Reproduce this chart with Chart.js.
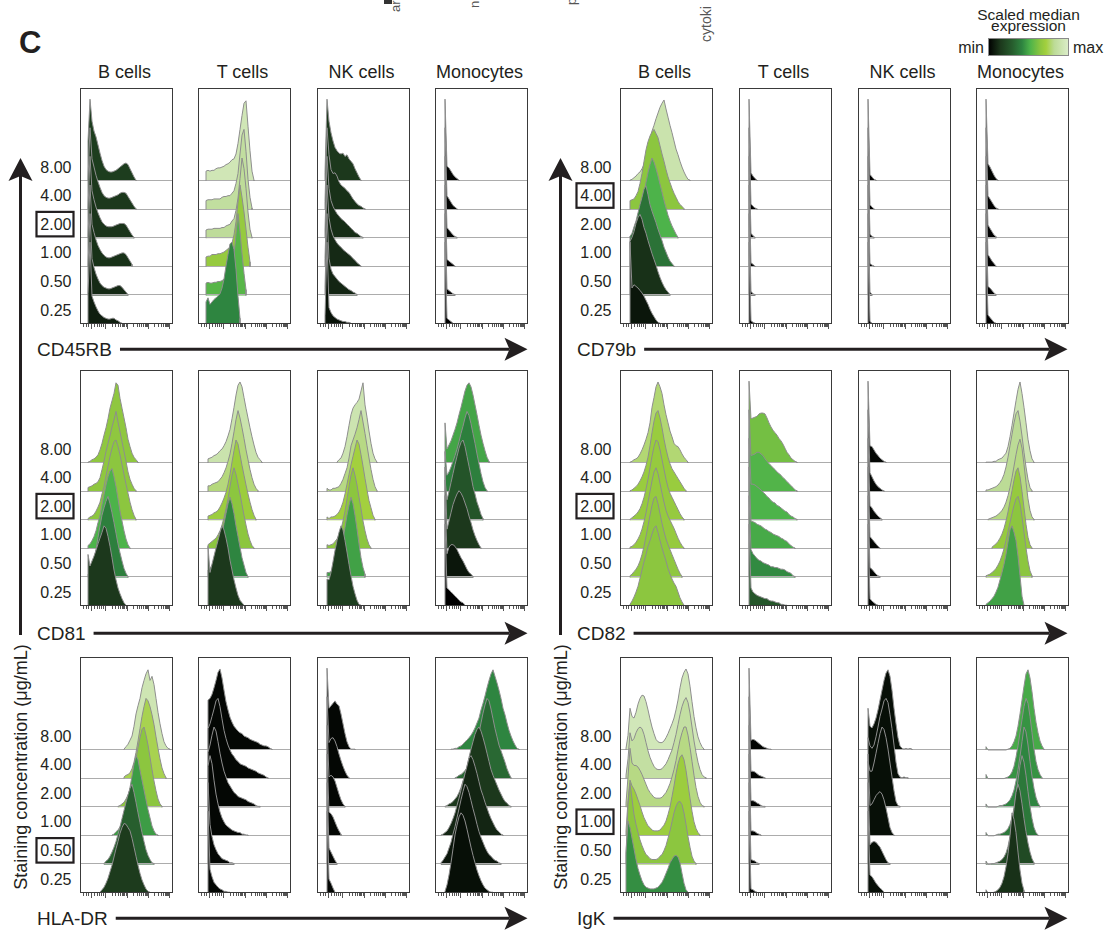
<!DOCTYPE html>
<html>
<head>
<meta charset="utf-8">
<script src="https://cdn.jsdelivr.net/npm/chart.js@4.4.1/dist/chart.umd.min.js"></script>
<style>
  html, body { margin: 0; padding: 0; background: #fff; }
  body { width: 1104px; height: 930px; position: relative; overflow: hidden;
         font-family: "Liberation Sans", Arial, Helvetica, sans-serif; }
  canvas { position: absolute; }
  #ann { position: absolute; left: 0; top: 0; }
</style>
</head>
<body>
<svg id="ann" width="1104" height="930" xmlns="http://www.w3.org/2000/svg"></svg>
<script>
// ---------------------------------------------------------------
// Labels
// ---------------------------------------------------------------
const CONCENTRATIONS = ['0.25', '0.50', '1.00', '2.00', '4.00', '8.00'];   // bottom -> top
const CELL_TYPES = ['B cells', 'T cells', 'NK cells', 'Monocytes'];
const MARKERS_LEFT = ['CD45RB', 'CD81', 'HLA-DR'];
const MARKERS_RIGHT = ['CD79b', 'CD82', 'IgK'];
const REFERENCE_CONC_LEFT = ['2.00', '2.00', '0.50'];
const REFERENCE_CONC_RIGHT = ['4.00', '2.00', '1.00'];

// ---------------------------------------------------------------
// Histograms: one row per concentration (0.25 first, 8.00 last).
// Each row = [first bin, modal-scaled counts (0-100) ...]
// ---------------------------------------------------------------
const CD45RB_B = [
  [4,37,100,34,27,21,16,12,10,8,7,6,6,7,7,5,4,2,1],
  [4,37,100,45,34,26,20,15,12,10,9,8,8,9,10,11,12,12,10,7,4,1],
  [4,37,100,52,42,33,26,21,17,14,12,11,11,12,13,14,15,16,17,17,15,11,7,3],
  [4,37,100,58,47,38,31,25,20,17,15,14,14,14,15,16,17,18,18,18,16,12,8,4,1],
  [4,37,100,62,52,42,34,27,21,17,15,14,14,15,16,17,18,20,21,21,20,16,12,8,4,1],
  [4,49,100,73,61,54,44,34,25,18,14,12,11,11,12,13,15,17,19,21,22,20,15,10,5,1]
];
const CD45RB_T = [
  [4,27,32,24,27,30,32,34,37,44,55,71,85,98,100,91,67,34,7],
  [4,15,16,15,15,16,16,17,17,18,20,21,22,24,34,49,75,100,78,51,27,7],
  [4,12,13,13,15,15,15,16,16,17,18,20,22,24,29,39,55,79,100,85,67,46,24,6],
  [4,10,11,11,11,12,12,12,12,13,13,15,16,17,21,24,34,49,73,98,85,61,32,11,1],
  [4,11,12,12,12,13,13,13,13,15,16,16,17,17,20,23,32,44,68,91,98,71,37,15,2],
  [4,12,13,12,13,13,15,16,16,17,18,20,21,23,26,27,33,46,63,80,95,98,67,37,12,1]
];
const CD45RB_NK = [
  [4,10,100,20,14,10,8,6,5,4,3,3,2,2,1],
  [4,10,100,45,32,26,23,20,17,15,13,11,9,7,6,4,3,1],
  [4,10,100,60,46,38,33,29,26,24,21,19,17,15,13,10,8,5,3,1],
  [4,10,100,61,46,39,34,30,27,24,22,20,17,15,12,10,7,6,4,2,1],
  [4,10,100,67,49,44,45,41,34,30,28,26,23,21,17,13,10,7,5,4,2,1],
  [4,10,100,73,59,49,41,37,34,33,34,30,32,27,24,21,15,10,5,1]
];
const CD45RB_MONO = [
  [5,100,7,5,3,1],
  [5,100,8,6,4,2,1],
  [5,100,9,7,5,3,1],
  [5,100,13,10,7,4,2,1],
  [5,100,17,13,9,5,3,1],
  [5,100,18,16,12,8,5,3,1]
];

const CD81_B = [
  [4,63,49,55,61,68,76,83,90,98,95,85,73,59,44,32,22,15,9,4,1],
  [4,4,6,12,21,34,49,63,76,85,93,99,90,79,67,54,41,30,20,11,5,1],
  [4,4,6,10,15,22,32,41,54,66,78,88,95,98,88,76,61,46,34,22,12,5,1],
  [4,2,4,5,7,11,16,22,32,41,54,66,78,88,96,98,90,80,68,56,44,33,22,13,6,1],
  [4,5,6,7,9,10,12,17,27,37,49,59,68,79,88,98,85,73,61,49,37,24,15,9,4,1],
  [4,1,2,4,5,7,10,16,24,34,43,54,67,76,85,98,95,79,67,55,43,29,20,12,7,4,1]
];
const CD81_T = [
  [5,73,41,51,61,71,80,90,98,93,83,71,56,44,32,22,13,7,4,1],
  [5,9,11,15,20,26,33,43,54,66,78,90,98,90,78,63,50,37,24,15,6,1],
  [5,5,7,9,11,13,17,22,29,38,49,61,76,90,99,91,79,67,54,41,29,18,10,4,1],
  [5,5,6,7,9,10,12,16,21,27,34,44,56,71,85,98,93,80,67,55,43,32,22,13,6,1],
  [5,7,7,9,10,11,12,15,18,23,29,37,46,59,73,88,99,90,78,65,51,39,27,17,9,4,1],
  [5,5,6,7,9,10,12,15,17,21,26,33,41,54,68,83,95,99,93,80,67,55,43,32,22,13,7,4,1]
];
const CD81_NK = [
  [5,33,32,41,54,68,80,90,98,93,80,66,51,37,24,15,7,2,1],
  [5,6,6,7,10,13,18,26,35,48,61,76,88,98,90,76,59,41,24,12,4],
  [5,5,4,5,6,9,12,17,24,34,46,61,76,90,99,90,78,63,49,34,22,12,5,1],
  [5,4,2,4,4,5,7,10,15,22,32,44,56,68,78,88,98,93,80,66,51,37,24,15,6,1],
  [5,4,2,2,4,4,5,6,10,15,22,29,41,56,63,70,78,88,99,85,71,56,41,27,15,6,1],
  [10,1,4,6,12,20,32,46,59,67,71,74,78,88,98,71,56,39,24,12,5,1]
];
const CD81_MONO = [
  [5,100,22,20,17,15,12,10,7,5,4,1],
  [5,100,29,37,40,40,38,34,29,24,20,15,10,6,4,1],
  [5,100,24,34,44,54,61,67,71,68,63,56,49,40,32,23,16,10,5,1],
  [5,49,25,35,46,57,68,78,88,95,98,90,78,66,54,41,32,22,15,7,2],
  [5,49,20,24,30,37,44,52,61,71,80,90,98,93,83,71,59,46,34,22,12,5,1],
  [5,49,17,22,27,34,41,49,59,68,78,88,95,98,93,83,71,59,46,34,24,15,7,2]
];

const HLADR_B = [
  [10,1,4,7,12,18,26,34,44,54,63,73,80,85,84,80,76,67,56,45,34,24,16,10,5,2,1],
  [12,1,4,6,10,15,21,28,37,46,56,66,76,85,93,98,88,76,63,51,39,28,18,11,6,2,1],
  [16,1,2,5,7,11,16,22,32,44,59,73,88,98,93,80,68,56,44,32,22,12,6,2,1],
  [19,1,2,4,6,10,15,22,32,44,59,73,85,95,98,88,76,61,46,32,20,10,4,1],
  [22,2,4,5,7,12,20,32,46,61,76,88,98,95,88,78,66,51,37,24,13,6,1],
  [22,1,4,7,12,17,29,44,54,63,76,85,93,98,85,90,80,63,46,32,20,10,5,2,1]
];
const HLADR_T = [
  [5,100,29,20,13,10,7,5,4,2,2,1,1],
  [5,100,49,34,24,18,13,10,7,6,5,4,2,2,1],
  [5,85,98,88,68,51,39,29,22,17,13,11,9,7,6,5,4,4,2,2,1,1],
  [5,67,76,88,98,93,80,66,54,44,37,30,26,22,18,16,13,12,11,10,9,7,6,5,4,2,1,1],
  [5,61,67,76,85,95,98,88,73,59,49,41,35,30,27,23,21,18,17,16,15,13,12,11,10,9,7,6,5,4,2,1],
  [5,61,63,68,76,85,95,99,88,73,59,49,40,34,29,26,23,21,20,17,16,15,13,12,11,10,9,7,6,5,5,4,2,1]
];
const HLADR_NK = [
  [5,100,17,12,6,1],
  [5,100,20,15,10,5,1],
  [5,100,29,27,23,17,11,6,2],
  [5,100,37,39,37,32,24,16,9,4,1],
  [5,100,44,49,50,46,39,30,22,15,9,4,1],
  [5,100,51,54,57,60,56,54,44,32,20,10,4,1,1,1]
];
const HLADR_MONO = [
  [5,2,10,22,37,54,71,83,93,98,95,88,78,67,56,46,37,28,21,15,10,6,4,2,1,1],
  [3,2,5,9,13,20,27,37,46,57,68,79,89,98,95,88,78,68,59,49,40,33,27,21,16,12,10,7,5,4,2,1],
  [3,1,2,4,6,10,15,21,28,37,46,56,66,76,85,95,98,93,85,76,66,56,49,41,34,27,21,16,11,7,5,2,1],
  [5,1,2,4,5,7,10,13,18,24,32,40,50,61,71,80,89,95,98,93,85,76,66,56,46,39,33,27,21,16,11,7,5,2,1],
  [10,1,2,4,5,7,10,13,18,23,29,37,46,56,68,80,90,98,95,85,73,61,51,41,34,27,20,12,6,1],
  [8,1,1,2,2,4,5,7,10,12,15,18,22,27,33,39,49,57,66,76,85,93,98,90,82,73,63,51,43,33,24,17,11,6,2,1]
];

const CD79B_B = [
  [5,100,44,48,46,44,41,38,34,29,24,18,13,9,5,2,1],
  [5,66,71,78,88,95,99,93,83,76,67,59,51,44,37,29,22,16,11,7,4,1],
  [5,37,41,49,56,66,76,85,95,99,88,76,68,61,54,46,39,32,24,18,12,7,4,1],
  [5,2,5,7,11,17,27,39,54,68,80,90,98,93,85,76,66,56,46,37,28,21,15,10,5,1],
  [5,11,12,13,17,22,32,44,59,73,83,90,95,98,93,88,78,68,59,49,40,33,26,20,15,10,6,4,1],
  [5,1,2,4,6,9,11,15,20,27,37,49,61,68,76,83,90,95,99,88,78,68,59,49,39,32,24,17,11,6,2,1]
];
const CD79B_T = [
  [5,100,4,2,1],
  [5,100,5,2,1],
  [5,100,5,3,1],
  [5,100,6,3,1],
  [5,100,7,4,2,1],
  [5,100,10,6,3,1]
];
const CD79B_NK = [
  [5,100,3,1],
  [5,100,4,1],
  [5,100,4,2,1],
  [5,100,5,2,1],
  [5,100,6,3,1],
  [5,100,8,5,2,1]
];
const CD79B_MONO = [
  [5,100,11,8,5,2,1],
  [5,100,11,9,6,3,1],
  [5,100,15,11,7,4,1],
  [5,100,16,12,8,4,2],
  [5,100,17,13,9,5,2,1],
  [5,100,21,17,12,7,3,1]
];

const CD82_B = [
  [5,2,6,11,17,24,34,44,54,63,73,80,88,95,98,90,80,71,63,55,46,39,33,28,24,17,10,5,1],
  [5,2,4,7,10,14,20,28,38,50,63,76,88,97,99,90,78,66,56,47,40,34,28,22,16,10,5,1],
  [5,2,3,5,8,12,17,24,33,44,57,70,83,94,99,92,80,68,57,47,40,35,30,25,19,13,8,4,1],
  [5,1,3,5,7,10,14,20,28,38,50,64,78,90,98,96,86,74,62,50,40,33,28,23,18,13,8,4,1],
  [5,1,2,4,6,9,13,18,24,32,42,56,72,86,96,99,90,78,64,52,42,34,28,24,20,16,12,8,4,1],
  [5,1,2,4,5,7,11,16,22,29,37,49,68,80,93,99,93,85,71,59,49,39,32,24,21,20,16,11,7,4,1]
];
const CD82_T = [
  [5,100,22,17,15,13,12,11,10,9,9,7,6,6,5,4,4,2,2,1,1],
  [5,100,34,29,26,23,21,20,18,17,16,15,13,13,12,12,11,10,10,9,7,6,5,2,1],
  [5,100,34,33,32,30,29,28,26,24,23,21,20,18,17,16,15,13,12,10,9,6,4,2,1],
  [5,100,44,44,43,41,39,37,34,32,29,27,24,22,21,18,17,15,13,11,10,7,5,4,2,1],
  [5,100,44,45,46,48,48,46,44,40,37,34,32,29,27,24,22,20,17,15,12,10,7,5,2,1],
  [5,100,54,55,56,57,60,61,61,60,55,49,44,40,37,34,30,27,23,18,13,10,6,4,2,1]
];
const CD82_NK = [
  [5,100,9,6,4,2,1],
  [5,100,12,10,7,4,2,1],
  [5,100,15,12,9,6,3,1],
  [5,100,18,15,11,8,5,3,1],
  [5,100,23,18,13,9,6,4,2,1],
  [5,100,21,20,16,12,9,6,4,2,1]
];
const CD82_MONO = [
  [5,2,4,6,9,12,17,23,32,41,51,63,78,93,98,90,80,61,37,12,1],
  [5,2,3,4,6,8,11,15,20,27,35,45,56,67,78,88,96,99,90,74,55,36,20,8,2],
  [8,2,4,6,9,13,18,25,34,45,58,71,84,95,99,88,70,50,30,14,5,1],
  [6,1,2,3,4,5,7,9,12,16,22,30,40,52,66,80,92,99,88,68,46,26,12,4,1],
  [5,2,2,3,4,5,6,8,11,15,21,30,42,56,70,84,95,99,86,68,48,30,15,5,1],
  [5,1,1,1,1,2,2,4,5,6,9,12,20,32,46,61,76,90,99,85,68,49,29,15,5,1]
];

const IGK_B = [
  [3,49,88,80,67,54,41,30,22,15,10,7,6,5,5,5,6,7,10,13,18,24,30,37,41,45,46,44,37,24,12,4,1],
  [3,12,73,99,80,61,49,39,30,23,17,12,10,7,6,6,6,7,10,12,17,23,32,41,52,63,71,76,77,73,63,49,34,21,10,4,1],
  [3,6,43,68,61,57,51,44,37,29,22,17,12,10,7,6,6,6,7,10,13,18,26,35,48,61,76,88,96,99,93,80,63,46,30,17,9,4,1],
  [3,5,37,72,54,51,51,49,45,40,34,28,22,18,15,12,11,11,11,12,15,18,23,29,37,46,57,70,82,91,98,98,88,73,56,39,24,13,6,2,1],
  [3,4,24,56,46,49,56,61,63,61,54,44,34,26,20,15,12,11,11,12,15,18,23,29,35,44,54,66,78,88,95,99,93,80,63,46,32,20,11,5,2,1],
  [3,2,18,51,41,39,46,56,63,67,66,59,49,38,28,20,13,10,9,9,11,15,20,26,32,39,49,61,76,88,95,99,93,78,59,41,27,16,9,4,1]
];
const IGK_T = [
  [5,100,5,4,2,1],
  [5,100,6,5,4,2,1],
  [5,100,6,6,5,3,2,1],
  [5,100,8,8,7,5,4,2,1,1],
  [5,100,9,9,8,6,4,3,2,1],
  [5,100,12,13,12,10,8,6,4,3,2,1,1]
];
const IGK_NK = [
  [5,100,22,20,16,12,9,6,4,1],
  [5,100,24,27,28,27,24,21,16,11,6,2,1],
  [5,100,37,39,44,49,52,54,51,44,34,22,10,4,1],
  [5,56,44,44,54,66,78,90,98,95,85,71,54,37,20,7,2,1],
  [5,50,40,37,41,51,63,76,85,95,98,93,78,61,41,20,6,2,1,2,1,1],
  [5,51,29,27,32,39,49,61,73,85,94,98,90,73,51,32,15,5,2,1,2,1,2,1]
];
const IGK_MONO = [
  [5,4,0,0,0,1,2,4,7,12,20,32,48,70,98,90,74,50,28,12,3],
  [5,4,0,0,1,1,2,3,4,6,9,14,22,34,50,68,88,98,90,74,56,40,26,15,7,2],
  [5,4,0,0,0,0,1,2,2,3,4,6,9,14,22,34,50,68,86,98,90,74,54,36,21,10,4,1],
  [5,4,0,0,0,0,0,1,2,2,3,4,6,9,14,21,32,46,62,80,98,92,76,56,38,23,12,5,1],
  [5,5,0,0,0,0,0,0,0,0,0,1,2,4,8,15,26,40,56,72,88,98,92,76,56,36,21,11,5,1],
  [5,4,0,0,0,0,0,0,0,0,0,0,1,2,5,10,17,29,44,61,78,93,98,88,71,51,34,21,11,5,1]
];

// Scaled median expression of each histogram (0 = min, 1 = max); [B, T, NK, Mono]
const CD45RB_MED = [
  [0.08,0.11,0.13,0.14,0.15,0.17],
  [0.42,0.54,0.68,0.83,0.85,0.93],
  [0.05,0.10,0.11,0.12,0.13,0.15],
  [0.00,0.00,0.00,0.01,0.01,0.01]
];
const CD81_MED = [
  [0.15,0.40,0.52,0.65,0.66,0.66],
  [0.15,0.42,0.65,0.70,0.79,0.90],
  [0.17,0.48,0.65,0.72,0.80,0.91],
  [0.00,0.06,0.15,0.26,0.40,0.49]
];
const HLADR_MED = [
  [0.16,0.30,0.47,0.65,0.74,0.92],
  [0.02,0.02,0.02,0.02,0.02,0.02],
  [0.02,0.02,0.02,0.02,0.02,0.02],
  [0.04,0.06,0.10,0.15,0.33,0.42]
];
const CD79B_MED = [
  [0.06,0.13,0.36,0.52,0.65,0.90],
  [0.00,0.00,0.00,0.00,0.00,0.00],
  [0.00,0.00,0.00,0.00,0.00,0.00],
  [0.00,0.00,0.00,0.00,0.00,0.01]
];
const CD82_MED = [
  [0.65,0.66,0.68,0.68,0.69,0.78],
  [0.27,0.43,0.50,0.52,0.53,0.60],
  [0.02,0.02,0.02,0.02,0.02,0.02],
  [0.48,0.65,0.68,0.80,0.82,0.92]
];
const IGK_MED = [
  [0.44,0.65,0.70,0.80,0.86,0.94],
  [0.01,0.01,0.01,0.01,0.01,0.01],
  [0.04,0.04,0.04,0.04,0.04,0.04],
  [0.13,0.22,0.38,0.42,0.45,0.50]
];

// Logicle-style x axis ticks (fraction of the axis length)
const AXIS_MAJOR = [0.115, 0.27, 0.50, 0.73, 0.96];
const AXIS_MINOR = [0.035, 0.06, 0.085, 0.15, 0.18, 0.205, 0.23, 0.25,
  0.339, 0.380, 0.408, 0.431, 0.449, 0.464, 0.478, 0.490,
  0.569, 0.610, 0.638, 0.661, 0.679, 0.694, 0.708, 0.720,
  0.799, 0.840, 0.868, 0.891, 0.909, 0.924, 0.938, 0.950];

// Colour scale for the scaled median expression
const CMAP_STOPS = [
  [0.00, '#000000'], [0.15, '#1c381c'], [0.30, '#275e2e'], [0.42, '#2e8540'],
  [0.52, '#4db34a'], [0.65, '#8cc63f'], [0.72, '#a3d03e'], [0.82, '#bcdb96'],
  [1.00, '#dcedca']
];

// ---------------------------------------------------------------
// Layout
// ---------------------------------------------------------------
const PANEL_X = [[80, 198, 317, 435], [620, 739, 858, 976]];
const PANEL_Y = [88, 370, 657];
const PANEL_W = 93, PANEL_H = 236, TICK_SPACE = 8;
const Y_MAX = 8.25;          // panel height in ridge spacings
const PEAK = 2.86;           // height of a modal bin, in ridge spacings
const X_MAX = 46.5;          // bins across a panel
const ROW_STEP = PANEL_H / Y_MAX;
const FONT = '"Liberation Sans", Arial, Helvetica, sans-serif';

const PANELS = [
  { block: 0, row: 0, hists: [CD45RB_B, CD45RB_T, CD45RB_NK, CD45RB_MONO], med: CD45RB_MED },
  { block: 0, row: 1, hists: [CD81_B, CD81_T, CD81_NK, CD81_MONO], med: CD81_MED },
  { block: 0, row: 2, hists: [HLADR_B, HLADR_T, HLADR_NK, HLADR_MONO], med: HLADR_MED },
  { block: 1, row: 0, hists: [CD79B_B, CD79B_T, CD79B_NK, CD79B_MONO], med: CD79B_MED },
  { block: 1, row: 1, hists: [CD82_B, CD82_T, CD82_NK, CD82_MONO], med: CD82_MED },
  { block: 1, row: 2, hists: [IGK_B, IGK_T, IGK_NK, IGK_MONO], med: IGK_MED }
];

function hexToRgb(h) {
  return [parseInt(h.slice(1, 3), 16), parseInt(h.slice(3, 5), 16), parseInt(h.slice(5, 7), 16)];
}
function colorAt(t) {
  t = Math.max(0, Math.min(1, t));
  for (let i = 1; i < CMAP_STOPS.length; i++) {
    const [t1, c1] = CMAP_STOPS[i];
    const [t0, c0] = CMAP_STOPS[i - 1];
    if (t <= t1) {
      const f = (t - t0) / (t1 - t0);
      const a = hexToRgb(c0), b = hexToRgb(c1);
      const c = a.map((v, k) => Math.round(v + (b[k] - v) * f));
      return `rgb(${c[0]},${c[1]},${c[2]})`;
    }
  }
  return CMAP_STOPS[CMAP_STOPS.length - 1][1];
}

function ridgePoints(curve, k) {
  const start = curve[0];
  const vals = curve.slice(1);
  const pts = [{ x: start, y: k }];
  vals.forEach((v, i) => pts.push({ x: start + i, y: k + v / 100 * PEAK }));
  pts.push({ x: start + vals.length - 1, y: k });
  return pts;
}

// Baselines, panel frame and logicle ticks
const panelDecor = {
  id: 'panelDecor',
  beforeDatasetDraw(chart, args) {
    const { ctx, chartArea } = chart;
    const y = Math.round(chart.scales.y.getPixelForValue(args.index)) - 0.5;
    ctx.save();
    ctx.strokeStyle = '#acacac';
    ctx.lineWidth = 1.2;
    ctx.beginPath();
    ctx.moveTo(chartArea.left, y);
    ctx.lineTo(chartArea.right, y);
    ctx.stroke();
    ctx.restore();
  },
  afterDraw(chart) {
    const { ctx, chartArea } = chart;
    const xs = chart.scales.x;
    ctx.save();
    ctx.strokeStyle = '#3a3a3a';
    ctx.lineWidth = 1;
    ctx.strokeRect(chartArea.left + 0.5, chartArea.top + 0.5,
                   chartArea.right - chartArea.left - 1, chartArea.bottom - chartArea.top - 1);
    ctx.strokeStyle = '#555';
    ctx.beginPath();
    AXIS_MAJOR.forEach(f => {
      const x = Math.round(xs.getPixelForValue(f * X_MAX)) + 0.5;
      ctx.moveTo(x, chartArea.bottom); ctx.lineTo(x, chartArea.bottom + 5);
    });
    AXIS_MINOR.forEach(f => {
      const x = Math.round(xs.getPixelForValue(f * X_MAX)) + 0.5;
      ctx.moveTo(x, chartArea.bottom); ctx.lineTo(x, chartArea.bottom + 3);
    });
    ctx.stroke();
    ctx.restore();
  }
};

PANELS.forEach(p => {
  p.hists.forEach((curves, col) => {
    const cv = document.createElement('canvas');
    cv.width = PANEL_W;
    cv.height = PANEL_H + TICK_SPACE;
    cv.style.left = PANEL_X[p.block][col] + 'px';
    cv.style.top = PANEL_Y[p.row] + 'px';
    cv.style.width = PANEL_W + 'px';
    cv.style.height = (PANEL_H + TICK_SPACE) + 'px';
    document.body.appendChild(cv);
    const datasets = curves.map((c, k) => ({
      data: ridgePoints(c, k),
      backgroundColor: colorAt(p.med[col][k]),
      borderColor: '#8e8e8e',
      borderWidth: 1,
      fill: { value: k },
      pointRadius: 0,
      tension: 0
    }));
    new Chart(cv, {
      type: 'line',
      data: { datasets },
      options: {
        responsive: false,
        animation: false,
        devicePixelRatio: 1,
        events: [],
        parsing: false,
        layout: { padding: { left: 0, right: 0, top: 0, bottom: TICK_SPACE } },
        scales: {
          x: { type: 'linear', min: 0, max: X_MAX, display: false },
          y: { type: 'linear', min: 0, max: Y_MAX, display: false }
        },
        plugins: { legend: { display: false }, tooltip: { enabled: false } }
      },
      plugins: [panelDecor]
    });
  });
});

// ---------------------------------------------------------------
// Annotations (SVG)
// ---------------------------------------------------------------
const NS = 'http://www.w3.org/2000/svg';
const svg = document.getElementById('ann');
function el(tag, attrs, text) {
  const e = document.createElementNS(NS, tag);
  for (const k in attrs) e.setAttribute(k, attrs[k]);
  if (text !== undefined) e.textContent = text;
  svg.appendChild(e);
  return e;
}
function txt(x, y, s, size, extra) {
  return el('text', Object.assign({ x, y, 'font-size': size, 'font-family': FONT, fill: '#231f20' }, extra || {}), s);
}

// panel letter
txt(19, 52.7, 'C', 31, { 'font-weight': 'bold' });

// clipped labels from the neighbouring panel
el('rect', { x: 384, y: 0, width: 8, height: 4, fill: '#333' });
txt(400, 12, 'ar', 13, { transform: 'rotate(-90 400 12)', fill: '#555' });
txt(479, 8, 'n', 13, { transform: 'rotate(-90 479 8)', fill: '#555' });
txt(576, 5, 'p', 13, { transform: 'rotate(-90 576 5)', fill: '#555' });
txt(711, 42, 'cytoki', 14, { transform: 'rotate(-90 711 42)', fill: '#555' });

// legend
txt(1028.5, 20, 'Scaled median', 15.5, { 'text-anchor': 'middle' });
txt(1028.5, 30.5, 'expression', 15.5, { 'text-anchor': 'middle' });
const defs = el('defs', {});
const grad = document.createElementNS(NS, 'linearGradient');
grad.setAttribute('id', 'cmap');
grad.setAttribute('x1', '0'); grad.setAttribute('x2', '1');
grad.setAttribute('y1', '0'); grad.setAttribute('y2', '0');
CMAP_STOPS.forEach(([t, c]) => {
  const s = document.createElementNS(NS, 'stop');
  s.setAttribute('offset', t);
  s.setAttribute('stop-color', c);
  grad.appendChild(s);
});
defs.appendChild(grad);
el('rect', { x: 988.5, y: 38.5, width: 80, height: 17, fill: 'url(#cmap)', stroke: '#8a8a8a', 'stroke-width': 1 });
txt(984, 53.3, 'min', 16, { 'text-anchor': 'end' });
txt(1073, 53.3, 'max', 16);

// column headers
[0, 1].forEach(b => {
  CELL_TYPES.forEach((name, col) => {
    txt(PANEL_X[b][col] + PANEL_W / 2 - 2, 78.3, name, 18, { 'text-anchor': 'middle' });
  });
});

// concentration labels, marker arrows
function arrowRight(x0, x1, y) {
  el('line', { x1: x0, y1: y, x2: x1 - 18, y2: y, stroke: '#231f20', 'stroke-width': 3 });
  el('path', { d: `M${x1},${y} L${x1 - 23},${y - 11.5} L${x1 - 18},${y} L${x1 - 23},${y + 11.5} Z`, fill: '#231f20' });
}
function arrowUp(x, y0, y1) {
  el('line', { x1: x, y1: y0, x2: x, y2: y1 + 18, stroke: '#231f20', 'stroke-width': 3 });
  el('path', { d: `M${x},${y1} L${x - 12},${y1 + 23} L${x},${y1 + 18} L${x + 12},${y1 + 23} Z`, fill: '#231f20' });
}

const ARROW_Y = [349.3, 633.3, 918.3];
[[MARKERS_LEFT, REFERENCE_CONC_LEFT], [MARKERS_RIGHT, REFERENCE_CONC_RIGHT]].forEach(([markers, refs], b) => {
  const dx = b * 540;
  markers.forEach((m, r) => {
    const bottom = PANEL_Y[r] + PANEL_H;
    CONCENTRATIONS.forEach((c, k) => {
      const yb = bottom - k * ROW_STEP - 8.3;
      txt(71.5 + dx, yb, c, 16, { 'text-anchor': 'end' });
      if (c === refs[r]) {
        el('rect', { x: 36.5 + dx, y: yb - 18, width: 37, height: 24.5, fill: 'none', stroke: '#231f20', 'stroke-width': 2.2 });
      }
    });
    const t = txt(37 + dx, ARROW_Y[r] + 6.3, m, 19);
    const w = t.getComputedTextLength();
    arrowRight(37 + dx + w + 8, 527.5 + dx, ARROW_Y[r]);
  });
  arrowUp(20.5 + dx, 635, 158);
  txt(26.5 + dx, 767, 'Staining concentration (\u03bcg/mL)', 18,
      { 'text-anchor': 'middle', transform: `rotate(-90 ${26.5 + dx} 767)` });
});
</script>
</body>
</html>
